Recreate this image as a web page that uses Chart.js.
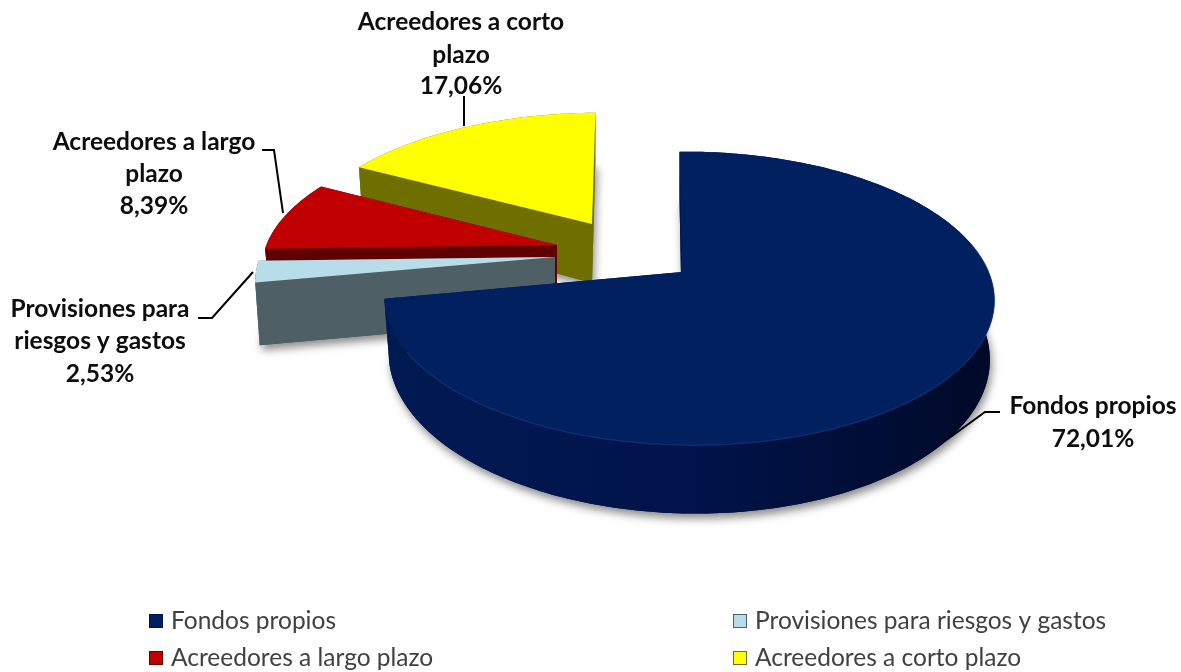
<!DOCTYPE html>
<html><head><meta charset="utf-8">
<style>html,body{margin:0;padding:0;background:#fff}canvas{display:block}</style>
<script src="https://cdn.jsdelivr.net/npm/chart.js@4"></script>
</head><body><canvas id="c" width="1181" height="672"></canvas>
<script>
const categories = ['Fondos propios','Provisiones para riesgos y gastos','Acreedores a largo plazo','Acreedores a corto plazo'];
const values = [72.01,2.53,8.39,17.06];
const topColors = ['#002060','#B7DEE8','#C00000','#FFFF00'];
const sideColors = [['#001A54','#00134A','#000A28'],['#4F5F66','#4F5F66','#4F5F66'],['#600000','#600000','#600000'],['#6F6F00','#6F6F00','#6F6F00']];
const calloutLines = [['Fondos propios'],['Provisiones para','riesgos y gastos'],['Acreedores a largo','plazo'],['Acreedores a corto','plazo']];

// view geometry of the extruded, exploded pie (styling only)
const view = {Rx:300,Ry:142,p:0.18,q:-0.022};
const place = [
 {ax:682,ay:272,sx:1,sy:1,skew:-3,depth:56},
 {ax:555,ay:257,sx:1.005,sy:0.95,skew:0,depth:62},
 {ax:557,ay:245,sx:0.99,sy:0.95,skew:0,depth:44},
 {ax:592,ay:224,sx:0.985,sy:0.925,skew:4,depth:59}
];
const calloutPos = [
 {cx:1093,ys:[406,439],line:[[945,441],[985,412],[1000,412]]},
 {cx:100,ys:[309,341,374],line:[[198,318],[212,318],[253,272]]},
 {cx:154,ys:[142,174,206],line:[[262,150],[274,150],[283,213]]},
 {cx:461,ys:[22,55,86],line:[[464,96],[464,126]]}
];
const legendPos = [{x:149,y:621},{x:733,y:621},{x:149,y:658},{x:733,y:658}];

function project(pl,a,down){
  const u=Math.cos(a), v=-Math.sin(a), w=1+view.p*v+view.q*u;
  let X=(pl.sx*view.Rx*u+pl.skew*v)/w, Y=-pl.sy*view.Ry*v/w;
  if(down){X*=0.985; Y+=pl.depth/w;}
  return [pl.ax+X,pl.ay+Y];
}
function apex(pl,down){return [pl.ax,pl.ay+(down?pl.depth:0)];}
function arcPts(pl,a0,a1,down){
  const n=Math.max(4,Math.ceil((a1-a0)/(Math.PI/180))),r=[];
  for(let i=0;i<=n;i++) r.push(project(pl,a0+(a1-a0)*i/n,down));
  return r;
}
function poly(ctx,pts,fill){
  ctx.beginPath();pts.forEach((p,i)=>i?ctx.lineTo(p[0],p[1]):ctx.moveTo(p[0],p[1]));ctx.closePath();
  ctx.fillStyle=fill;ctx.fill();
}
const pie3d={id:'pie3d',
  beforeDatasetDraw(chart,args){
    const ctx=chart.ctx, arcs=chart.getDatasetMeta(args.index).data;
    for(let i=arcs.length-1;i>=0;i--){
      const pl=place[i], a0=arcs[i].startAngle, a1=arcs[i].endAngle;
      const t=arcPts(pl,a0,a1,false), b=arcPts(pl,a0,a1,true);
      const xs=t.map(p=>p[0]), g=ctx.createLinearGradient(Math.min(...xs),0,Math.max(...xs),0);
      g.addColorStop(0,sideColors[i][0]);g.addColorStop(.5,sideColors[i][1]);g.addColorStop(1,sideColors[i][2]);
      ctx.save();ctx.shadowColor='rgba(0,0,0,0.45)';ctx.shadowBlur=9;ctx.shadowOffsetX=2;ctx.shadowOffsetY=5;
      poly(ctx,[apex(pl,true),...b],sideColors[i][1]);ctx.restore();
      poly(ctx,[apex(pl,false),t[0],b[0],apex(pl,true)],sideColors[i][0]);
      poly(ctx,[apex(pl,false),t[t.length-1],b[b.length-1],apex(pl,true)],sideColors[i][0]);
      poly(ctx,[...t,...b.slice().reverse()],g);
      poly(ctx,[apex(pl,false),...t],topColors[i]);
      if(i===0){
        const from=a0+(a1-a0)*0.3, to=a0+(a1-a0)*0.92, e=arcPts(pl,from,to,false);
        ctx.beginPath();e.forEach((p,k)=>k?ctx.lineTo(p[0],p[1]):ctx.moveTo(p[0],p[1]));
        ctx.strokeStyle='rgba(50,90,160,0.3)';ctx.lineWidth=1.5;ctx.stroke();
      }
    }
    return false;
  },
  afterDraw(chart){
    const ctx=chart.ctx, labels=chart.data.labels, data=chart.data.datasets[0].data;
    ctx.save();
    // callouts
    ctx.textAlign='center';ctx.textBaseline='middle';ctx.fillStyle='#0d0d0d';
    ctx.font='bold 24.5px Lato';
    calloutPos.forEach((c,i)=>{
      const lines=[...calloutLines[i],data[i].toFixed(2).replace('.',',')+'%'];
      lines.forEach((s,k)=>ctx.fillText(s,c.cx,c.ys[k]));
      ctx.beginPath();c.line.forEach((p,k)=>k?ctx.lineTo(p[0],p[1]):ctx.moveTo(p[0],p[1]));
      ctx.strokeStyle='#000';ctx.lineWidth=2;ctx.stroke();
    });
    // legend
    ctx.textAlign='left';ctx.font='24.5px Lato';
    legendPos.forEach((l,i)=>{
      ctx.fillStyle=topColors[i];ctx.fillRect(l.x,l.y-7,14,14);
      ctx.strokeStyle=sideColors[i][1];ctx.lineWidth=1;ctx.strokeRect(l.x+.5,l.y-6.5,13,13);
      ctx.fillStyle='#404040';ctx.fillText(labels[i],l.x+22,l.y);
    });
    ctx.restore();
  }
};
new Chart(document.getElementById('c'),{
  type:'pie',
  data:{labels:categories,datasets:[{data:values,backgroundColor:topColors,borderWidth:0}]},
  options:{responsive:false,animation:false,events:[],plugins:{legend:{display:false},tooltip:{enabled:false}}},
  plugins:[pie3d]
});
</script></body></html>
